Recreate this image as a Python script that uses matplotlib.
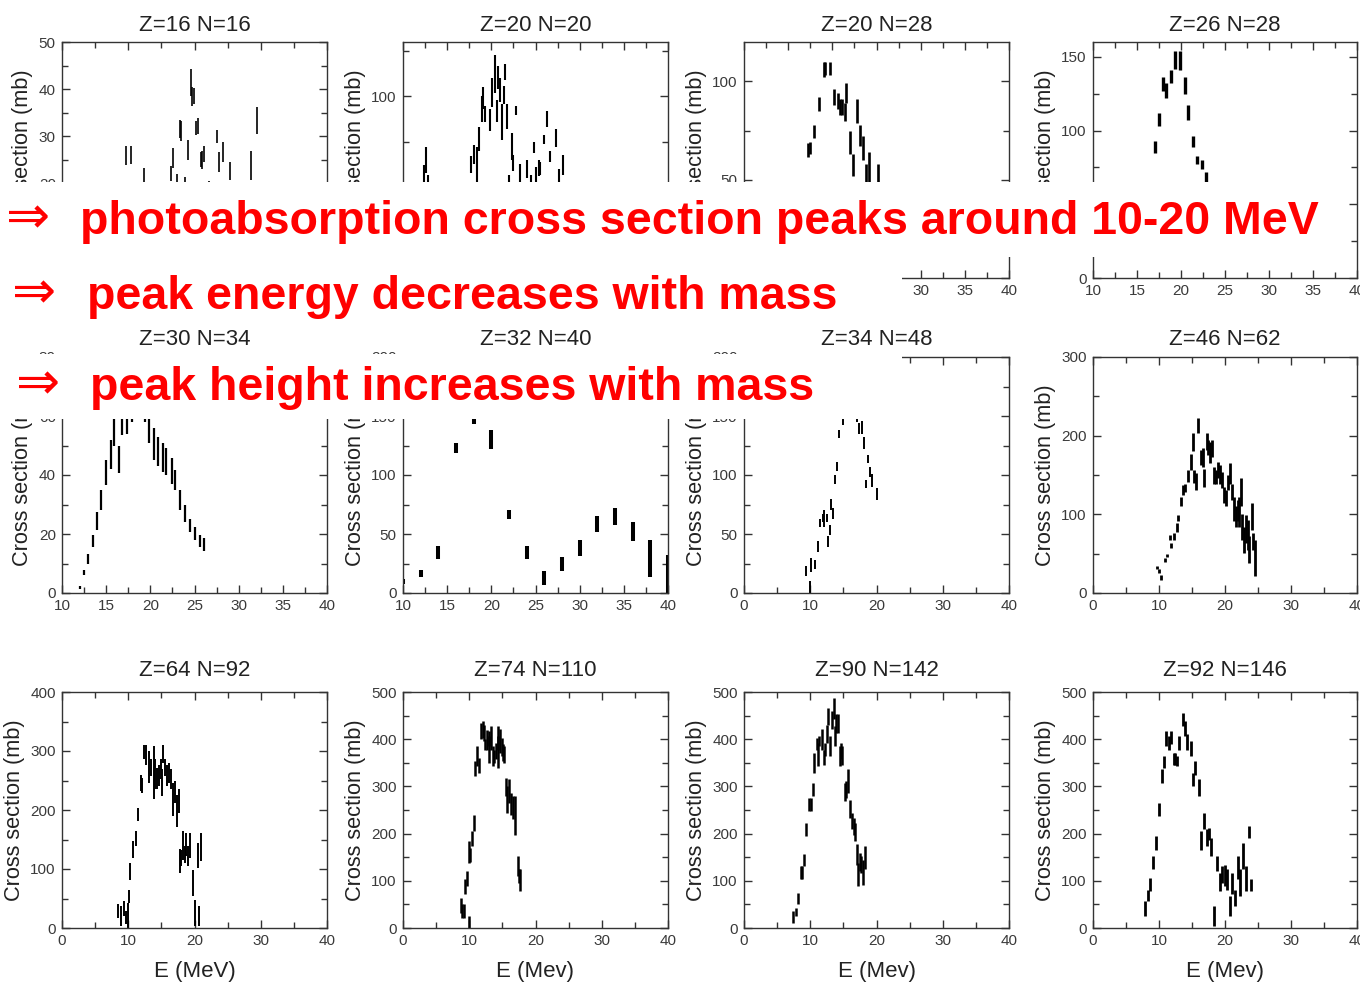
import matplotlib
matplotlib.use("Agg")
import matplotlib.pyplot as plt
from matplotlib.ticker import MultipleLocator
from matplotlib.patches import Rectangle

plt.rcParams['font.family'] = ['Liberation Sans', 'DejaVu Sans']

# ---------------- data (E in MeV, cross-section error bar low / high in mb) ----
titles = ["Z=16 N=16", "Z=20 N=20", "Z=20 N=28", "Z=26 N=28",
          "Z=30 N=34", "Z=32 N=40", "Z=34 N=48", "Z=46 N=62",
          "Z=64 N=92", "Z=74 N=110", "Z=90 N=142", "Z=92 N=146"]
xlabels = ["E (MeV)", "E (Mev)", "E (Mev)", "E (Mev)"]

e_s32 = [9.6, 10.4, 11.6, 12.4, 16.5, 16.8, 17.3, 17.8, 18.0, 18.6, 19.0, 19.4, 19.6, 19.9, 20.2,
         20.6, 21.0, 21.1, 21.4, 22.2, 23.4, 23.7, 24.3, 25.3, 28.6, 29.4]
lo_s32 = [24.0, 24.2, 18.5, 18.0, 20.6, 23.3, 18.0, 29.6, 29.0, 17.0, 25.0, 38.5, 36.5, 36.8, 30.2,
          30.5, 23.5, 23.0, 24.5, 17.0, 28.5, 22.5, 24.5, 20.8, 20.8, 30.5]
hi_s32 = [28.0, 28.0, 20.2, 23.3, 23.8, 27.5, 22.0, 33.5, 33.2, 21.5, 29.3, 44.2, 40.5, 40.2, 33.2,
          33.8, 26.8, 27.0, 28.0, 20.5, 31.3, 26.8, 28.8, 24.5, 27.0, 36.3]

e_ca40 = [12.4, 12.6, 12.8, 17.7, 18.0, 18.4, 18.6, 18.9, 19.1, 19.3, 19.8, 20.1, 20.4, 20.6, 20.8,
          21.0, 21.25, 21.4, 21.6, 21.8, 22.0, 22.3, 22.5, 22.8, 23.2, 24.0, 24.5, 24.8, 25.0, 25.4,
          25.5, 26.0, 26.3, 26.6, 27.3, 27.7, 28.1]
lo_ca40 = [52, 58, 50, 58, 63, 50, 70, 86, 93, 86, 81, 94, 102, 86, 104, 97, 76, 96, 109, 82,
           50, 65, 59, 90, 50, 55, 50, 69, 50, 56, 57, 74, 83, 64, 72, 50, 57]
hi_ca40 = [62, 72, 57, 67, 73, 72, 83, 100, 105, 95, 93, 110, 123, 98, 117, 110, 96, 106, 118, 96,
           57, 80, 68, 95, 63, 65, 57, 75, 61, 65, 64, 79, 92, 70, 82, 60, 68]

e_ca48 = [17.3, 17.5, 17.95, 18.5, 19.1, 19.2, 19.7, 20.2, 20.6, 20.9, 21.1, 21.4, 21.6, 22.0, 22.3,
          22.8, 23.1, 23.5, 23.8, 24.2, 25.2]
lo_ca48 = [61.7, 63, 71, 85, 102, 103, 103, 88, 86, 83, 83, 80, 89, 63, 52, 79, 67, 60, 48, 46, 46]
hi_ca48 = [68.8, 69, 78, 92, 110, 110, 110, 96, 94, 91, 91, 89, 99, 75, 63, 91, 78, 72, 58, 64, 58]

e_fe54 = [17.0, 17.45, 17.9, 18.3, 18.9, 19.35, 19.9, 20.4, 20.8, 21.35, 21.85, 22.35, 22.8]
lo_fe54 = [85, 103, 127, 122, 132, 142, 141, 125, 107, 89, 77, 74, 64]
hi_fe54 = [93, 112, 136, 132, 141, 154, 154, 136, 117, 96, 83, 80, 72]

e_zn64 = [12.0, 12.5, 12.9, 13.5, 14.0, 14.4, 15.0, 15.5, 15.9, 16.4, 16.8, 17.4, 17.9, 19.4, 19.8,
          20.4, 20.9, 21.4, 21.8, 22.4, 22.8, 23.4, 23.9, 24.5, 25.0, 25.6, 26.1]
lo_zn64 = [1.5, 6.0, 10.0, 15.6, 21.3, 28.1, 36.6, 42.0, 50.0, 40.8, 53.6, 54.0, 58.0, 58.0, 51.0,
           45.0, 43.0, 41.0, 40.0, 37.0, 35.0, 28.0, 24.0, 20.7, 18.0, 15.6, 14.3]
hi_zn64 = [2.3, 7.7, 13.1, 19.6, 27.5, 34.9, 45.0, 52.0, 62.0, 50.0, 62.0, 64.0, 65.0, 64.0, 60.0,
           56.0, 53.0, 51.0, 49.0, 45.6, 41.7, 35.0, 30.0, 25.2, 22.4, 19.6, 18.5]

e_ge72 = [10, 12, 14, 16, 18, 20, 22, 24, 26, 28, 30, 32, 34, 36, 38, 40]
lo_ge72 = [8, 13.6, 29, 119, 143, 122, 63, 29, 6.5, 18.7, 31, 52, 58, 44, 13.6, 0]
hi_ge72 = [12, 19.8, 40, 127, 155, 138, 70, 40, 18.7, 30.6, 45, 65, 72, 60, 45, 32]

e_se82 = [9.3, 9.9, 10.1, 10.7, 11.1, 11.5, 11.85, 12.1, 12.5, 12.75, 13.0, 13.1, 13.4, 13.7, 14.1,
          14.4, 14.9, 17.0, 17.4, 17.85, 18.05, 18.35, 18.65, 19.05, 19.35, 20.0]
lo_se82 = [14, 0, 18, 20, 35, 56, 60, 56, 60, 39, 49, 70, 63, 92, 103, 131, 142, 145, 135, 135,
           122, 89, 110, 98, 90, 79]
hi_se82 = [22.5, 10, 30, 28, 44, 63, 67, 70, 67, 48, 58, 80, 72, 100, 111, 138, 152, 152, 144, 146,
           132, 96, 117, 107, 101, 89]

e_pd108 = [9.7, 10.0, 10.3, 10.85, 11.25, 11.6, 11.85, 12.3, 12.8, 12.9, 13.3, 13.6, 13.9, 14.45, 14.8,
           15.2, 15.3, 15.55, 15.9, 16.3, 16.6, 16.8, 17.2, 17.45, 17.75, 18.05, 18.35, 18.7, 19.0, 19.2,
           19.5, 19.9, 20.2, 20.4, 20.7, 21.0, 21.3, 21.6, 21.9, 22.15, 22.4, 22.65, 22.9, 23.2, 23.45,
           23.7, 24.05, 24.3, 24.6]
lo_pd108 = [30, 25, 17, 39, 46, 68, 57, 68, 78, 91, 110, 125, 129, 141, 156, 180, 140, 131, 203, 163,
            160, 135, 182, 175, 165, 173, 139, 139, 146, 139, 133, 114, 110, 131, 139, 118, 91, 84, 91, 84,
            110, 68, 51, 63, 55, 38, 80, 55, 21]
hi_pd108 = [34, 30, 23, 44, 50, 74, 63, 76, 89, 99, 122, 137, 139, 156, 177, 203, 156, 152, 222, 182,
            184, 158, 203, 194, 192, 194, 160, 156, 167, 163, 154, 135, 131, 150, 165, 139, 122, 110, 118, 122,
            146, 101, 84, 99, 93, 72, 114, 76, 68]

e_gd156 = [8.5, 8.9, 9.3, 9.7, 9.9, 10.0, 10.1, 10.3, 10.7, 11.1, 11.4, 11.9, 12.1, 12.4, 12.7,
           13.1, 13.45, 13.85, 14.1, 14.4, 14.65, 14.9, 15.15, 15.3, 15.6, 15.85, 16.15, 16.5, 16.7, 17.1,
           17.3, 17.6, 17.8, 18.0, 18.3, 18.55, 18.75, 19.0, 19.35, 19.75, 20.0, 20.5, 20.75, 21.05]
lo_gd156 = [17, 3, 20, 6, 20, 0, 42, 82, 119, 139, 181, 232, 229, 286, 277, 246, 257, 218, 235, 235,
            240, 252, 223, 280, 257, 240, 246, 235, 190, 212, 172, 195, 93, 105, 116, 110, 122, 105, 119, 54,
            3, 102, 3, 113]
hi_gd156 = [40, 37, 45, 28, 42, 20, 65, 110, 147, 164, 204, 260, 255, 311, 311, 300, 286, 308, 286, 272,
            277, 286, 269, 311, 286, 277, 280, 269, 246, 249, 226, 235, 134, 133, 164, 139, 161, 139, 161, 99,
            48, 144, 37, 161]

e_w184 = [8.7, 8.9, 9.2, 9.4, 9.7, 9.9, 10.0, 10.1, 10.45, 10.7, 10.9, 11.15, 11.45, 11.75, 12.0,
          12.2, 12.45, 12.7, 12.95, 13.05, 13.3, 13.6, 13.8, 14.0, 14.3, 14.4, 14.6, 14.9, 15.1, 15.3,
          15.5, 15.7, 16.0, 16.3, 16.55, 16.85, 17.3, 17.55, 17.65]
lo_w184 = [32, 21, 21, 71, 88, 0, 138, 140, 173, 205, 322, 343, 329, 400, 403, 396, 378, 378, 385, 350,
           378, 343, 350, 357, 378, 340, 371, 364, 354, 350, 279, 244, 265, 240, 230, 198, 110, 95, 78]
hi_w184 = [64, 50, 50, 103, 120, 25, 184, 170, 205, 240, 354, 385, 361, 435, 438, 431, 400, 420, 417, 407,
           428, 385, 378, 393, 428, 407, 421, 403, 389, 385, 318, 301, 315, 286, 279, 279, 152, 124, 124]

e_th232 = [7.45, 7.8, 8.2, 8.55, 8.8, 9.1, 9.4, 9.8, 10.05, 10.35, 10.6, 10.95, 11.15, 11.35, 11.7,
           12.1, 12.2, 12.5, 12.75, 13.0, 13.25, 13.55, 13.75, 13.95, 14.2, 14.45, 14.65, 14.85, 15.2, 15.4,
           15.7, 16.0, 16.35, 16.55, 16.7, 17.05, 17.25, 17.45, 17.65, 17.9, 18.3]
lo_th232 = [11, 25, 50, 103, 103, 131, 194, 248, 248, 279, 329, 378, 343, 385, 378, 346, 364, 392, 431, 364,
            421, 442, 385, 414, 414, 343, 357, 346, 269, 276, 286, 233, 209, 198, 184, 134, 88, 120, 117, 92,
            124]
hi_th232 = [35, 42, 74, 131, 131, 156, 223, 276, 276, 308, 371, 403, 392, 407, 421, 378, 392, 431, 467, 407,
            460, 488, 428, 453, 453, 385, 392, 385, 308, 311, 336, 272, 244, 233, 223, 177, 138, 159, 152, 145,
            173]

e_u238 = [7.95, 8.3, 8.7, 9.15, 9.5, 10.0, 10.4, 10.8, 11.1, 11.5, 11.8, 12.2, 12.4, 12.75, 13.05,
          13.6, 13.95, 14.3, 14.8, 15.1, 15.5, 16.0, 16.4, 16.75, 17.25, 17.55, 17.85, 18.3, 18.8, 19.25,
          19.6, 19.95, 20.25, 20.7, 21.1, 21.5, 22.0, 22.3, 22.75, 23.25, 23.65, 23.95]
lo_u238 = [25, 57, 78, 125, 166, 237, 308, 339, 385, 378, 389, 346, 346, 343, 378, 428, 407, 378, 364, 300,
           325, 279, 166, 209, 173, 187, 152, 4, 120, 78, 95, 88, 81, 25, 71, 46, 103, 67, 124, 78,
           191, 78]
hi_u238 = [57, 81, 106, 152, 194, 265, 336, 364, 417, 407, 417, 371, 371, 364, 407, 456, 438, 410, 396, 329,
           353, 315, 205, 244, 209, 212, 191, 46, 152, 117, 131, 134, 124, 67, 117, 81, 152, 124, 180, 131,
           216, 103]

panel_data = [(e_s32, lo_s32, hi_s32), (e_ca40, lo_ca40, hi_ca40), (e_ca48, lo_ca48, hi_ca48),
              (e_fe54, lo_fe54, hi_fe54), (e_zn64, lo_zn64, hi_zn64), (e_ge72, lo_ge72, hi_ge72),
              (e_se82, lo_se82, hi_se82), (e_pd108, lo_pd108, hi_pd108), (e_gd156, lo_gd156, hi_gd156),
              (e_w184, lo_w184, hi_w184), (e_th232, lo_th232, hi_th232), (e_u238, lo_u238, hi_u238)]

# axis ranges: (xmin, xmax, xmajor, xminor, ymax, ymajor, yminor)
axis_specs = [(0, 40, 10, 5, 50, 10, 5), (10, 40, 5, 2.5, 130, 50, 25), (10, 40, 5, 2.5, 120, 50, 25),
              (10, 40, 5, 2.5, 160, 50, 25), (10, 40, 5, 2.5, 80, 20, 10), (10, 40, 5, 2.5, 200, 50, 25),
              (0, 40, 10, 5, 200, 50, 25), (0, 40, 10, 5, 300, 100, 50), (0, 40, 10, 5, 400, 100, 50),
              (0, 40, 10, 5, 500, 100, 50), (0, 40, 10, 5, 500, 100, 50), (0, 40, 10, 5, 500, 100, 50)]

notes = ["photoabsorption cross section peaks around 10-20 MeV",
         "peak energy decreases with mass",
         "peak height increases with mass"]

# ---------------- layout / style ----------------------------------------------
W, H = 1360, 985
fig = plt.figure(figsize=(W / 100, H / 100), dpi=100)
fig.patch.set_facecolor('white')

col_left = [62, 403, 744, 1093]
row_top = [42, 357, 692]
aw, ah = 265, 236
bar_lw = [1.2, 1.5, 1.9, 2.4, 1.6, 2.9, 1.4, 2.0, 1.4, 1.8, 1.8, 2.0]
title_pad = [8.0, 8.5, 11.5]
covered_xlabels = {0, 1}   # x tick labels fully covered by the white note box

for i in range(12):
    r, c = divmod(i, 4)
    x0 = col_left[c]
    w = aw if c < 3 else 264
    ax = fig.add_axes([x0 / W, 1 - (row_top[r] + ah) / H, w / W, ah / H])
    xmn, xmx, xmaj, xmin, ymx, ymaj, ymin = axis_specs[i]
    e, lo, hi = panel_data[i]
    ax.vlines(e, lo, hi, colors='black', linewidth=bar_lw[i])
    ax.set_xlim(xmn, xmx)
    ax.set_ylim(0, ymx)
    ax.xaxis.set_major_locator(MultipleLocator(xmaj))
    ax.xaxis.set_minor_locator(MultipleLocator(xmin))
    ax.yaxis.set_major_locator(MultipleLocator(ymaj))
    ax.yaxis.set_minor_locator(MultipleLocator(ymin))
    ax.tick_params(which='both', direction='in', top=True, right=True,
                   color='#333333', width=1.0, labelsize=11, labelcolor='#3a3a3a', pad=4.5)
    ax.tick_params(which='major', length=5.5)
    ax.tick_params(which='minor', length=4.5)
    if i in covered_xlabels:
        ax.tick_params(axis='x', labelbottom=False)
    for s in ax.spines.values():
        s.set_color('#333333')
        s.set_linewidth(1.0)
    ax.set_title(titles[i], fontsize=16, color='#222222', pad=title_pad[r])
    ax.set_ylabel("Cross section (mb)", fontsize=15.7, color='#222222', labelpad=4)
    if r == 2:
        ax.set_xlabel(xlabels[c], fontsize=16, color='#222222', labelpad=9)

# ---------------- white boxes with red statements -----------------------------
boxes = [(0, 182, 1338, 257), (0, 257, 902, 323), (0, 354, 902, 419)]
baselines = [234, 309, 400]
text_x = [80, 87, 90]
arrow_x = [6, 12, 16]
for (bx0, by0, bx1, by1), yb, tx, axx, note in zip(boxes, baselines, text_x, arrow_x, notes):
    fig.add_artist(Rectangle((bx0 / W, 1 - by1 / H), (bx1 - bx0) / W, (by1 - by0) / H,
                             transform=fig.transFigure, facecolor='white', edgecolor='none',
                             zorder=10))
    fig.text(axx / W, 1 - (yb - 1) / H, "\u21D2", fontsize=38, color='#ff0000', family='DejaVu Sans',
             va='baseline', ha='left', zorder=11)
    fig.text(tx / W, 1 - yb / H, note, fontsize=33.5, color='#ff0000', fontweight='bold',
             family='Liberation Sans', va='baseline', ha='left', zorder=11)

fig.savefig("out.png", dpi=100, facecolor='white')
